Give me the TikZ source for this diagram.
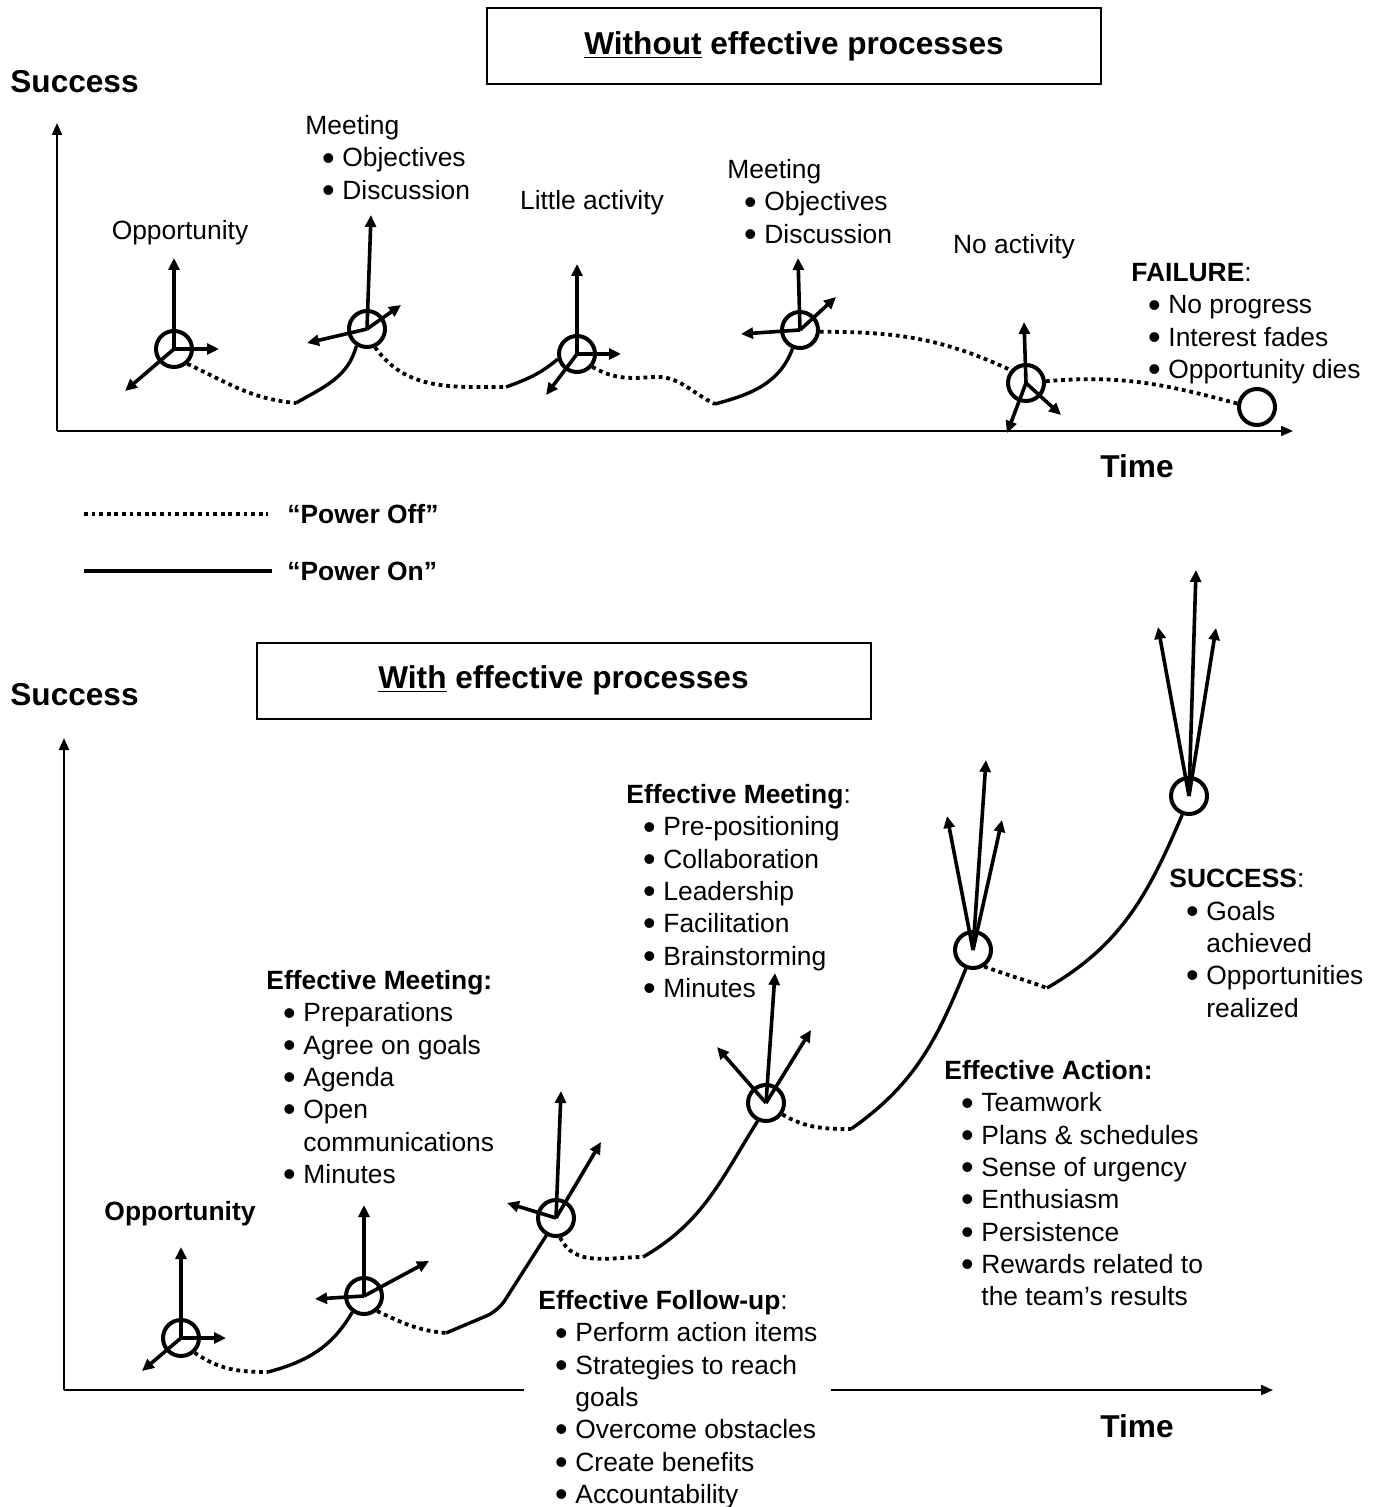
\documentclass[tikz,border=0pt]{standalone}
\usepackage{fontspec}
\setmainfont{Liberation Sans}
\usetikzlibrary{arrows.meta,
	calc,
	positioning}

\newcommand{\bul}{\makebox[18.5pt][l]{\hspace{8.3pt}\smash{\raisebox{-1.6pt}{\fontsize{18}{18}\selectfont\textbullet}}}}
\newcommand{\cont}{\hspace*{18.5pt}}

\tikzset{
	knot/.style={circle, draw, line width=2pt, minimum size=18pt, inner sep=0pt},
	force/.style={line width=1.8pt, -{Triangle[length=6pt,width=5.5pt]}},
	poweron/.style={line width=1.7pt},
	poweroff/.style={line width=1.9pt, dash pattern=on 1.9pt off 1.9pt},
	axis/.style={line width=1pt, -{Triangle[length=6pt,width=5pt]}},
	txt/.style={font=\fontsize{13.2}{16.15}\selectfont, align=left, inner sep=0pt},
	head/.style={font=\fontsize{15.8}{19}\selectfont\bfseries, inner sep=0pt},
	titlebox/.style={draw, line width=1pt, minimum width=307pt, minimum height=38pt,
		font=\fontsize{15.8}{19}\selectfont\bfseries}
}

\begin{document}
\begin{tikzpicture}[x=0.5pt, y=-0.5pt]
	\useasboundingbox (0,0) rectangle (1376,1507);

	% ---- without effective processes
	\node[titlebox] (ttl1) at (794,46) {\underline{Without} effective processes};
	\node[head, anchor=west] (succ1) at (10,82) {Success};
	\coordinate (o1) at (57,431);
	\draw[axis] (o1) -- (57,123);
	\draw[axis] (o1) -- (1293,431);
	\node[head, anchor=west] (time1) at (1100,466) {Time};

	\node[knot] (t1) at (174,349) {};
	\node[knot] (t2) at (367,329) {};
	\node[knot] (t3) at (577,354) {};
	\node[knot] (t4) at (800,330) {};
	\node[knot] (t5) at (1026,383) {};
	\node[knot] (t6) at (1257,407) {};

	\foreach \n/\dx/\dy in {t1/0/-91, t1/45/0, t1/-49/42,
			t2/4/-114, t2/-60/14, t2/34/-24,
			t3/0/-90, t3/44/0, t3/-31/41,
			t4/-2/-72, t4/-59/4, t4/36/-33,
			t5/-2/-61, t5/-19/50, t5/35/32}
		\draw[force] (\n.center) -- ++(\dx,\dy);

	\coordinate (td1) at (296,403);
	\coordinate (td2) at (506,387);
	\coordinate (tb3) at (652,377);
	\coordinate (td3) at (715,404);
	\draw[poweroff] (t1.-48) to[out=-25,in=175] (td1);
	\draw[poweron] (td1) to[out=30,in=-105] (t2.-122);
	\draw[poweroff] (t2.-66) to[out=-55,in=180] (td2);
	\draw[poweron] (td2) to[out=20,in=-140] (t3.195);
	\draw[poweroff] (t3.-40) to[out=-30,in=185] (tb3) to[out=5,in=155] (td3);
	\draw[poweron] (td3) to[out=15,in=-110] (t4.-112);
	\draw[poweroff] (t4.-5) to[out=0,in=155] (t5.140);
	\draw[poweroff] (t5.5) to[out=5,in=165] (t6.170);

	\node[txt] (lopp1) at (180,233) {Opportunity};
	\node[txt, anchor=north west] (lmeet1) at (305,115) {Meeting\\\bul Objectives\\\bul Discussion};
	\node[txt] (llittle) at (592,203) {Little activity};
	\node[txt, anchor=north west] (lmeet2) at (727,159) {Meeting\\\bul Objectives\\\bul Discussion};
	\node[txt] (lnone) at (1014,247) {No activity};
	\node[txt, anchor=north west] (lfail) at (1131,263)
		{\textbf{FAILURE}:\\\bul No progress\\\bul Interest fades\\\bul Opportunity dies};

	% ---- legend
	\draw[poweroff] (84,514) -- (268,514);
	\node[txt, anchor=west] (loff) at (287,514) {\textbf{“Power Off”}};
	\draw[poweron, line width=2pt] (84,571) -- (272,571);
	\node[txt, anchor=west] (lon) at (287,571) {\textbf{“Power On”}};

	% ---- with effective processes
	\node[titlebox] (ttl2) at (563.5,680.5) {\underline{With} effective processes};
	\node[head, anchor=west] (succ2) at (10,695) {Success};
	\coordinate (o2) at (64,1390);
	\draw[axis] (o2) -- (64,738);
	\draw[axis] (o2) -- (1273,1390);
	\node[head, anchor=west] (time2) at (1100,1426) {Time};

	\node[knot] (b1) at (181,1338) {};
	\node[knot] (b2) at (364,1296) {};
	\node[knot] (b3) at (556,1218) {};
	\node[knot] (b4) at (766,1103) {};
	\node[knot] (b5) at (973,950) {};
	\node[knot] (b6) at (1189,796) {};

	\foreach \n/\dx/\dy in {b1/0/-91, b1/45/0, b1/-39/33,
			b2/0/-91, b2/-49/3, b2/65/-35,
			b3/5/-127, b3/-49/-15, b3/45/-76,
			b4/9/-130, b4/-49/-56, b4/45/-73,
			b5/13/-190, b5/-26/-134, b5/29/-130,
			b6/7/-226, b6/-31/-169, b6/27/-168}
		\draw[force] (\n.center) -- ++(\dx,\dy);

	\coordinate (bd1) at (268,1372);
	\coordinate (bd2) at (446,1333);
	\coordinate (bk2) at (498,1311);
	\coordinate (bd3) at (643,1257);
	\coordinate (bd4) at (851,1129);
	\coordinate (bd5) at (1047,988);
	\draw[poweroff] (b1.-47) to[out=-35,in=180] (bd1);
	\draw[poweron] (bd1) to[out=15,in=-120] (b2.-126);
	\draw[poweroff] (b2.-49) to[out=-25,in=175] (bd2);
	\draw[poweron, rounded corners=6pt] (bd2) -- (bk2) -- (b3.-119);
	\draw[poweroff] (b3.-78) to[out=-65,in=180] (bd3);
	\draw[poweron] (bd3) to[out=30,in=-122] (b4.-115);
	\draw[poweroff] (b4.-35) to[out=-30,in=180] (bd4);
	\draw[poweron] (bd4) to[out=35,in=-112] (b5.-111);
	\draw[poweroff] (b5.-56) to[out=-20,in=160] (bd5);
	\draw[poweron] (bd5) to[out=30,in=-113] (b6.-110);

	\node[txt] (lopp2) at (180,1214) {\textbf{Opportunity}};
	\node[txt, anchor=north west] (lmeet3) at (266,970)
		{\textbf{Effective Meeting:}\\\bul Preparations\\\bul Agree on goals\\\bul Agenda\\
		 \bul Open\\\cont communications\\\bul Minutes};
	\node[txt, anchor=north west] (lmeet4) at (626,784)
		{\textbf{Effective Meeting}:\\\bul Pre-positioning\\\bul Collaboration\\\bul Leadership\\
		 \bul Facilitation\\\bul Brainstorming\\\bul Minutes};
	\node[txt, anchor=north west] (lsucc) at (1169,869)
		{\textbf{SUCCESS}:\\\bul Goals\\\cont achieved\\\bul Opportunities\\\cont realized};
	\node[txt, anchor=north west] (lact) at (944,1060)
		{\textbf{Effective Action:}\\\bul Teamwork\\\bul Plans \& schedules\\\bul Sense of urgency\\
		 \bul Enthusiasm\\\bul Persistence\\\bul Rewards related to\\\cont the team’s results};
	\node[txt, anchor=north west, fill=white, inner xsep=7pt, inner ysep=2pt] (lfollow) at (524,1286)
		{\textbf{Effective Follow-up}:\\\bul Perform action items\\\bul Strategies to reach\\\cont goals\\
		 \bul Overcome obstacles\\\bul Create benefits\\\bul Accountability};
\end{tikzpicture}
\end{document}
